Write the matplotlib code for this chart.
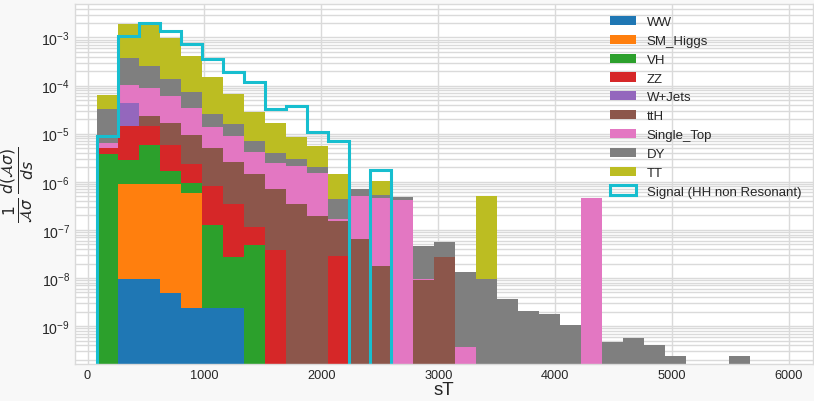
import numpy as np
import matplotlib
matplotlib.use('Agg')
from matplotlib import pyplot as plt

# bin edges of the sT histogram (31 bins)
edges = np.linspace(77, 5663, 32)

labels = ['WW', 'SM_Higgs', 'VH', 'ZZ', 'W+Jets', 'ttH', 'Single_Top', 'DY', 'TT']

ww = [0, 9.5e-9, 9.5e-9, 4.9e-9, 2.4e-9, 2.4e-9, 2.4e-9, 0, 0, 0,
      0, 0, 0, 0, 0, 0, 0, 0, 0, 0,
      0, 0, 0, 0, 0, 0, 0, 0, 0, 0, 0]
sm_higgs = [0, 8.9e-7, 8.9e-7, 8.95e-7, 5.83e-7, 0, 0, 0, 0, 0,
            0, 0, 0, 0, 0, 0, 0, 0, 0, 0,
            0, 0, 0, 0, 0, 0, 0, 0, 0, 0, 0]
vh = [3.78e-6, 1.98e-6, 4.92e-6, 8.0e-7, 3.37e-7, 1.24e-7, 2.5e-8, 4.85e-8, 0, 0,
      0, 0, 0, 0, 0, 0, 0, 0, 0, 0,
      0, 0, 0, 0, 0, 0, 0, 0, 0, 0, 0]
zz = [1.19e-6, 1.14e-5, 8.9e-6, 4.12e-6, 1.42e-6, 6.79e-7, 3.18e-7, 6.8e-8, 3.87e-8, 0,
      0, 2.91e-8, 0, 0, 0, 0, 0, 0, 0, 0,
      0, 0, 0, 0, 0, 0, 0, 0, 0, 0, 0]
wjets = [0, 2.86e-5, 0, 0, 0, 0, 0, 0, 0, 0,
         0, 0, 0, 0, 0, 0, 0, 0, 0, 0,
         0, 0, 0, 0, 0, 0, 0, 0, 0, 0, 0]
tth = [0, 0, 9.0e-6, 1.06e-5, 7.06e-6, 4.16e-6, 2.2e-6, 1.33e-6, 6.69e-7, 3.45e-7,
       1.97e-7, 1.26e-7, 6.47e-8, 1.8e-8, 0, 9.1e-9, 2.69e-8, 0, 0, 0,
       0, 0, 0, 0, 0, 0, 0, 0, 0, 0, 0]
single_top = [1.44e-6, 6.0e-5, 6.42e-5, 4.36e-5, 2.43e-5, 8.6e-6, 6.3e-6, 2.77e-6, 1.75e-6, 1.82e-6,
              1.33e-6, 1.4e-8, 4.49e-7, 4.42e-7, 4.25e-7, 4e-10, 6e-10, 3.73e-10, 0, 0,
              0, 0, 0, 4.54e-7, 0, 0, 0, 0, 0, 0, 0]
dy = [2.62e-5, 2.67e-4, 1.64e-4, 7.7e-5, 3.89e-5, 1.21e-5, 7.1e-6, 2.93e-6, 1.51e-6, 8.2e-7,
      4.8e-7, 2.7e-7, 1.94e-7, 7.9e-8, 5.8e-8, 3.6e-8, 2.8e-8, 1.27e-8, 9.53e-9, 3.66e-9,
      2.09e-9, 1.79e-9, 1.05e-9, 0, 4.74e-10, 5.57e-10, 4.05e-10, 2.43e-10, 0, 0, 2.43e-10]
tt = [3.12e-5, 1.54e-3, 1.82e-3, 8.4e-4, 3.46e-4, 1.23e-4, 5.09e-5, 2.15e-5, 1.27e-5, 5.43e-6,
      3.55e-6, 9.8e-7, 0, 5.1e-7, 0, 0, 0, 0, 5.05e-7, 0,
      0, 0, 0, 0, 0, 0, 0, 0, 0, 0, 0]
signal = [9.08e-6, 1.09e-3, 2.0e-3, 1.35e-3, 7.33e-4, 3.57e-4, 1.89e-4, 1.21e-4, 3.26e-5, 3.82e-5,
          1.07e-5, 7.15e-6, 0, 1.79e-6, 0, 0, 0, 0, 0, 0,
          0, 0, 0, 0, 0, 0, 0, 0, 0, 0, 0]

backgrounds = [ww, sm_higgs, vh, zz, wjets, tth, single_top, dy, tt]
colors = ['tab:blue', 'tab:orange', 'tab:green', 'tab:red', 'tab:purple',
          'tab:brown', 'tab:pink', 'tab:gray', 'tab:olive']

plt.style.use('seaborn-v0_8-whitegrid')
plt.rcParams['font.family'] = ['Liberation Sans', 'DejaVu Sans']

centers = (edges[:-1] + edges[1:]) / 2

fig = plt.figure(figsize=(8.14, 4.02), dpi=100, facecolor='#f8f8f8')
ax = fig.add_axes([75 / 814, 37 / 402, 738 / 814, 360 / 402])
ax.set_facecolor('white')
ax.set_yscale('log')

ax.hist([centers] * len(backgrounds), bins=edges, weights=backgrounds, stacked=True,
        histtype='bar', color=colors, label=labels, linewidth=0, edgecolor='none')
ax.hist(centers, bins=edges, weights=signal, histtype='step', color='tab:cyan',
        linewidth=2.2, label='Signal (HH non Resonant)')

ax.set_xlim(-107, 6205)
ax.set_ylim(1.63e-10, 4.97e-3)

ax.grid(True, which='major', color='#dadada', linewidth=1)
ax.grid(True, which='minor', axis='y', color='#dadada', linewidth=1)
ax.set_axisbelow(True)
for s in ax.spines.values():
    s.set_color('#dadada')

ax.tick_params(axis='both', which='both', length=0, colors='#262626')
ax.tick_params(axis='x', labelsize=9.2)
ax.tick_params(axis='y', labelsize=10.2)
ax.set_xticks([0, 1000, 2000, 3000, 4000, 5000, 6000])

ax.set_xlabel('sT', fontsize=13.5, labelpad=0, color='#262626')
ax.set_ylabel(r'$\frac{1}{\mathcal{A}\sigma}\,\frac{d(\mathcal{A}\sigma)}{ds}$',
              fontsize=16, labelpad=4, color='#262626')

ax.legend(loc='upper right', frameon=False, fontsize=9.5, labelspacing=0.5,
          bbox_to_anchor=(1.0, 1.0))

plt.savefig('out.png', dpi=100, facecolor=fig.get_facecolor())
